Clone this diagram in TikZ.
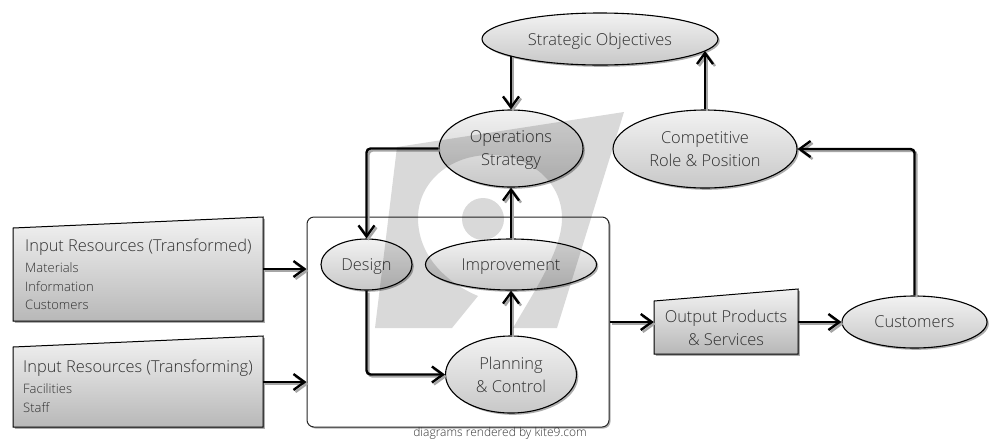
\documentclass[tikz,border=0pt]{standalone}
\usepackage{fontspec}
\setmainfont{Open Sans Light}
\usetikzlibrary{arrows.meta,shapes.geometric,shadows,calc}
\definecolor{txt}{HTML}{303030}
\definecolor{topc}{HTML}{F2F2F2}
\definecolor{botc}{HTML}{C8C8C8}
\definecolor{botbox}{HTML}{B8B8B8}
\newcommand{\bigtxt}{\fontsize{16.4}{23}\selectfont}
\newcommand{\smalltxt}{\fontsize{13}{19}\selectfont}
\newcommand{\nodepth}[1]{\raisebox{0pt}[\height][0pt]{#1}}
\newcommand{\connect}[1]{\draw[connshadow] #1; \draw[conn] #1;}
\tikzset{
  softshadow/.style={drop shadow={shadow xshift=1.8pt,shadow yshift=-1.8pt,fill=black,opacity=.32}},
  oval/.style={ellipse,draw=black,line width=1.1pt,inner sep=0pt,top color=topc,bottom color=botc,
    softshadow,text=txt,align=center,font=\bigtxt},
  slant/.style={draw=black,line width=1pt,top color=topc,bottom color=botbox,softshadow},
  boxanchor/.style={rectangle,inner sep=0pt},
  boxtext/.style={text=txt,align=left,inner sep=0pt,anchor=west,font=\bigtxt},
  boxsmall/.style={text=txt,inner sep=0pt,anchor=west,font=\smalltxt},
  proc/.style={rectangle,rounded corners=7pt,draw=black!85,line width=1pt,fill=white,inner sep=0pt,
    drop shadow={shadow xshift=1.5pt,shadow yshift=-1.5pt,fill=black,opacity=.3}},
  connbase/.style={line width=2.4pt,rounded corners=4pt,-{Straight Barb[length=11pt,width=16pt]}},
  conn/.style={connbase,draw=black},
  connshadow/.style={connbase,draw=black!35,transform canvas={shift={(2pt,-2pt)}}},
  mark9/.style={fill=black,fill opacity=.15,even odd rule},
}
\begin{document}
\begin{tikzpicture}[x=1pt,y=-1pt]
\useasboundingbox (0,0) rectangle (1000,440);
\fill[white] (0,0) rectangle (1000,440);

% process container
\node[proc,minimum width=302pt,minimum height=210pt] (box) at (458,322) {};

% slanted boxes
\shade[slant] (13,228) -- (263,217) -- (263,321) -- (13,321) -- cycle;
\node[boxanchor,minimum width=250pt,minimum height=104pt] (in1) at (138,269) {};
\shade[slant] (13,347) -- (263,336) -- (263,427) -- (13,427) -- cycle;
\node[boxanchor,minimum width=250pt,minimum height=91pt] (in2) at (138,382) {};
\shade[slant] (654,301) -- (798,289) -- (798,354) -- (654,354) -- cycle;
\node[boxanchor,minimum width=144pt,minimum height=65pt] (out) at (726,322) {};

\node[boxtext] (in1title) at (25,247) {Input Resources (Transformed)};
\node[boxsmall] (in1a) at (25,268) {Materials};
\node[boxsmall] (in1b) at (25,287) {Information};
\node[boxsmall] (in1c) at (25,305) {Customers};
\node[boxtext] (in2title) at (23,368) {Input Resources (Transforming)};
\node[boxsmall] (in2a) at (23,389) {Facilities};
\node[boxsmall] (in2b) at (23,408) {Staff};
\node[text=txt,align=center,font=\bigtxt,inner sep=0pt] (outtext) at (726,328) {Output Products\\\& Services};

% ovals
\node[oval,minimum width=236pt,minimum height=52pt] (strat) at (600,39) {\nodepth{Strategic Objectives}};
\node[oval,minimum width=144pt,minimum height=77pt] (ops) at (511,148.5) {Operations\\\nodepth{Strategy}};
\node[oval,minimum width=184pt,minimum height=78pt] (comp) at (705,149) {Competitive\\Role \& Position};
\node[oval,minimum width=91pt,minimum height=51pt] (design) at (366.5,264.5) {\nodepth{Design}};
\node[oval,minimum width=171pt,minimum height=51pt] (impr) at (511,264.5) {\nodepth{Improvement}};
\node[oval,minimum width=131pt,minimum height=77pt] (plan) at (511,374.5) {Planning\\\& Control};
\node[oval,minimum width=145pt,minimum height=52pt] (cust) at (914.5,322) {Customers};

% connectors
\connect{($(strat.center -| ops.north)+(0,17)$) -- (ops.north)}
\connect{(comp.north) -- ($(strat.center -| comp.north)+(0,12)$)}
\connect{(ops.west) -| (design.north)}
\connect{(design.south) |- (plan.west)}
\connect{(plan.north) -- (impr.south)}
\connect{(impr.north) -- (ops.south)}
\connect{(in1.east) -- (box.west |- in1.east)}
\connect{(in2.east) -- (box.west |- in2.east)}
\connect{(box.east |- out.west) -- (out.west)}
\connect{(out.east) -- (cust.west)}
\connect{(cust.north) |- (comp.east)}

% footer
\node[text=black!80,inner sep=0pt,font=\fontsize{12}{14}\selectfont] (foot) at (500,433) {diagrams rendered by kite9.com};

% watermark
\fill[mark9] (397,147) -- (624,112) -- (557,328) -- (513,328)
  .. controls (535,290) and (562,250) .. (562,218)
  .. controls (562,182) and (530,155) .. (490,155)
  .. controls (450,155) and (418,182) .. (418,218)
  .. controls (418,255) and (445,282) .. (478,296)
  -- (452,328) -- (375,328) -- cycle
  (483,219) circle [radius=21];
\end{tikzpicture}
\end{document}
